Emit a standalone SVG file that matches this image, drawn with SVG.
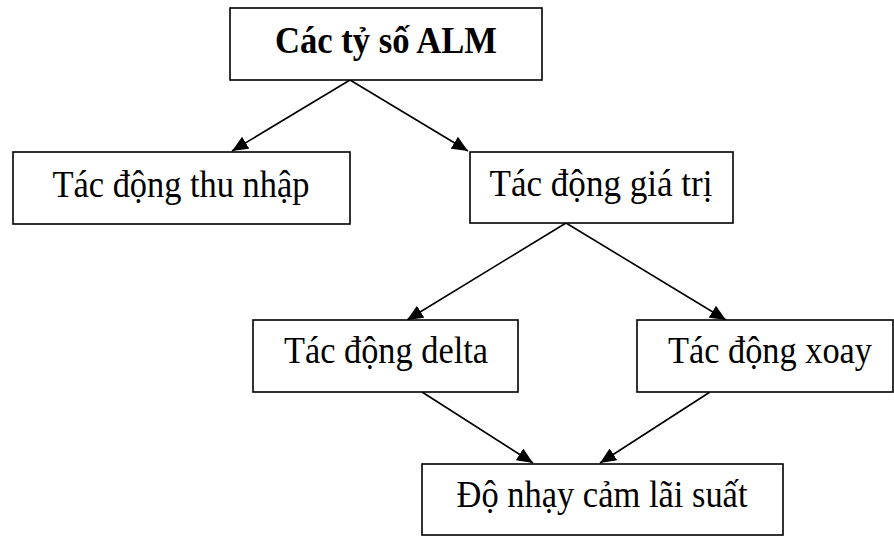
<svg xmlns="http://www.w3.org/2000/svg" width="894" height="536" viewBox="0 0 894 536">
<defs>
<style>
.box{fill:#fff;stroke:#000;stroke-width:1.6}
.t{font-family:"Liberation Serif","Times New Roman",serif;font-size:37px;fill:#000;text-anchor:middle}
.b{font-weight:bold}
.c{stroke:#000;stroke-width:1.6;fill:none;marker-end:url(#ah)}
</style>
<marker id="ah" viewBox="0 0 16 14" refX="16" refY="7" markerWidth="16" markerHeight="14" markerUnits="userSpaceOnUse" orient="auto">
<path d="M0,0 L16,7 L0,14 Z" fill="#000"/>
</marker>
</defs>
<rect width="894" height="536" fill="#fff"/>
<g id="connectors">
<line class="c" x1="350" y1="80" x2="232" y2="151"/>
<line class="c" x1="350" y1="80" x2="468" y2="151"/>
<line class="c" x1="566" y1="223" x2="407" y2="320"/>
<line class="c" x1="566" y1="223" x2="726" y2="320"/>
<line class="c" x1="422" y1="392" x2="533" y2="463"/>
<line class="c" x1="710" y1="392" x2="600" y2="463"/>
</g>
<g id="alm">
<rect class="box" x="230" y="8" width="312" height="72"/>
<text class="t b" x="386" y="53" textLength="222" lengthAdjust="spacingAndGlyphs">Các tỷ số ALM</text>
</g>
<g id="thunhap">
<rect class="box" x="13" y="152" width="337" height="72"/>
<text class="t" x="181" y="197" textLength="257" lengthAdjust="spacingAndGlyphs">Tác động thu nhập</text>
</g>
<g id="giatri">
<rect class="box" x="470" y="152" width="263" height="71"/>
<text class="t" x="601" y="196" textLength="223" lengthAdjust="spacingAndGlyphs">Tác động giá trị</text>
</g>
<g id="delta">
<rect class="box" x="253" y="320" width="265" height="72"/>
<text class="t" x="386" y="363" textLength="204" lengthAdjust="spacingAndGlyphs">Tác động delta</text>
</g>
<g id="xoay">
<rect class="box" x="637" y="320" width="256" height="72"/>
<text class="t" x="770" y="363" textLength="204" lengthAdjust="spacingAndGlyphs">Tác động xoay</text>
</g>
<g id="donhaycam">
<rect class="box" x="422" y="464" width="361" height="71"/>
<text class="t" x="602" y="507" textLength="291" lengthAdjust="spacingAndGlyphs">Độ nhạy cảm lãi suất</text>
</g>
</svg>
